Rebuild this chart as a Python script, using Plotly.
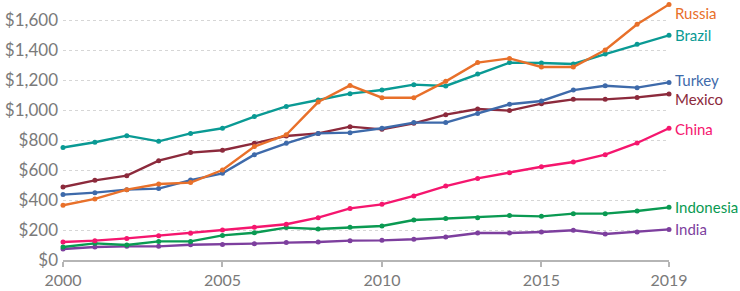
import plotly.graph_objects as go

years = list(range(2000, 2020))

russia = [365, 407, 469, 507, 516, 600, 756, 835, 1053, 1164, 1082, 1082, 1191, 1316, 1344, 1287, 1287, 1400, 1571, 1704]
brazil = [750, 785, 829, 791, 844, 878, 956, 1024, 1067, 1109, 1133, 1169, 1160, 1240, 1316, 1313, 1307, 1373, 1438, 1498]
turkey = [436, 449, 469, 476, 533, 578, 702, 778, 844, 849, 878, 916, 916, 976, 1038, 1060, 1133, 1162, 1149, 1184]
mexico = [487, 531, 562, 662, 716, 732, 778, 827, 844, 889, 871, 911, 969, 1007, 996, 1042, 1071, 1071, 1084, 1107]
china = [120, 129, 144, 162, 178, 200, 218, 238, 282, 344, 371, 427, 493, 544, 582, 622, 653, 702, 780, 878]
indonesia = [87, 111, 100, 124, 124, 164, 182, 216, 207, 218, 227, 267, 276, 282, 296, 291, 309, 309, 327, 351]
india = [73, 87, 91, 91, 102, 104, 109, 116, 120, 129, 131, 138, 153, 180, 180, 187, 198, 173, 187, 204]

series_names = ["India", "Indonesia", "China", "Mexico", "Turkey", "Brazil", "Russia"]
series_values = [india, indonesia, china, mexico, turkey, brazil, russia]
series_colors = ["#7d3f9e", "#0a9a52", "#f5166e", "#8c2a3c", "#3e6aaa", "#0a9a94", "#e8702a"]
label_shift = {"Russia": -9, "Brazil": 0, "Turkey": 2, "Mexico": -5, "China": -1, "Indonesia": 0, "India": 0}

x_ticks = [2000, 2005, 2010, 2015, 2019]
y_ticks = [0, 200, 400, 600, 800, 1000, 1200, 1400, 1600]
y_tick_labels = ["$0", "$200", "$400", "$600", "$800", "$1,000", "$1,200", "$1,400", "$1,600"]

fig = go.Figure()
for name, vals, col in zip(series_names, series_values, series_colors):
    fig.add_trace(go.Scatter(
        x=years, y=vals, name=name, mode="lines+markers",
        line=dict(color=col, width=2.4),
        marker=dict(color=col, size=5),
        cliponaxis=False, showlegend=False,
    ))
    fig.add_annotation(
        x=years[-1], y=vals[-1], text=name, showarrow=False,
        xanchor="left", yanchor="middle", xshift=4, yshift=label_shift[name],
        font=dict(family="Lato", size=15, color=col),
    )

fig.update_layout(
    width=740, height=291,
    margin=dict(l=63, r=71, t=2, b=31, autoexpand=False),
    paper_bgcolor="white", plot_bgcolor="white",
    font=dict(family="Lato", color="#7a7a7a"),
)
fig.update_xaxes(
    range=[2000, 2019], tickvals=x_ticks, ticktext=[str(t) for t in x_ticks],
    showgrid=False, zeroline=False,
    showline=True, linecolor="#b5b5b5", linewidth=1.5,
    ticks="outside", ticklen=5, tickcolor="#b5b5b5", tickwidth=1.5,
    tickfont=dict(family="Lato", size=16, color="#7a7a7a"),
    ticklabelstandoff=0, automargin=False,
)
fig.update_yaxes(
    range=[0, 1720], tickvals=y_ticks, ticktext=y_tick_labels,
    showgrid=True, gridcolor="#d6d6d6", griddash="dot", gridwidth=1,
    zeroline=False, showline=False,
    tickfont=dict(family="Lato", size=17, color="#7a7a7a"),
    ticklabelstandoff=4, automargin=False,
)

fig.write_html(
    "out.html",
    config={"displayModeBar": False},
    post_script="document.body.style.margin='0';document.body.style.padding='0';",
)
